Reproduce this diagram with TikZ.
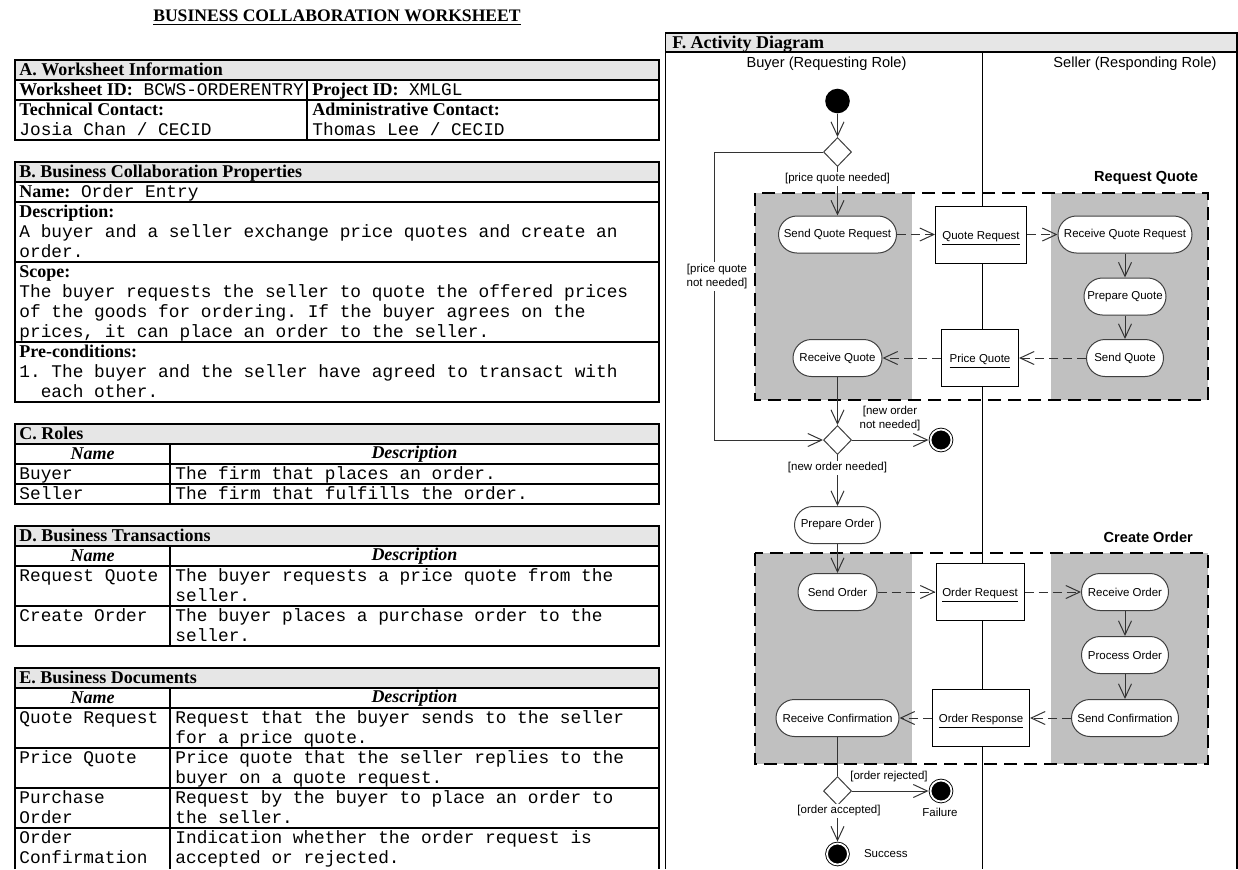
\documentclass[tikz,border=0pt]{standalone}
\usepackage{fontspec}
\setmainfont{Liberation Serif}
\setsansfont{Liberation Sans}
\setmonofont{Liberation Mono}
\usetikzlibrary{arrows.meta,shapes.geometric}
\definecolor{bandgrey}{HTML}{E6E6E6}
\definecolor{lanegrey}{HTML}{C0C0C0}
\newcommand\ttcell{\fontsize{8.9}{10}\selectfont\ttfamily}
\newcommand\hdcell{\fontsize{9}{10}\selectfont\rmfamily\bfseries}
\newcommand\actsize{\fontsize{5.75}{7}\selectfont\sffamily}
\newcommand\lanesize{\fontsize{7.3}{8}\selectfont\sffamily}
\newcommand\lbl[1]{{\hdcell #1}}
\tikzset{
BOX/.style={draw=black, line width=0.6pt},
BAND/.style={draw=black, line width=0.6pt, fill=bandgrey},
CELL/.style={anchor=north west, inner sep=0pt, align=left, font=\ttcell, yshift=-0.6pt},
HEAD/.style={anchor=north west, inner sep=0pt, align=left, font=\hdcell, yshift=-0.6pt},
COLHEAD/.style={inner sep=0pt, font=\hdcell\itshape},
ACT/.style={draw=black!75, fill=white, line width=0.5pt, rounded corners=9.25pt, minimum height=18.5pt, inner sep=0pt, font=\actsize, minimum width=#1},
OBJ/.style={draw=black, fill=white, line width=0.5pt, inner sep=0pt, minimum height=28.5pt, font=\actsize, text height=5pt, text depth=0.5pt, minimum width=#1},
DEC/.style={diamond, draw=black!75, fill=white, line width=0.5pt, inner sep=0pt, minimum width=14pt, minimum height=14.5pt},
START/.style={circle, fill=black, inner sep=0pt, minimum size=12.3pt},
FINAL/.style={circle, fill=black, draw=black, line width=0.45pt, double=white, double distance=0.9pt, inner sep=0pt, minimum size=10.5pt, outer sep=1pt},
GUARD/.style={inner sep=1pt, font=\actsize, fill=white},
FLOW/.style={draw=black!80, line width=0.5pt, -{Straight Barb[length=7pt,width=6.5pt]}},
MSG/.style={FLOW, dash pattern=on 4.5pt off 2.5pt},
GROUP/.style={draw=black, line width=1.2pt, dash pattern=on 6.5pt off 3.5pt},
}
\begin{document}
\begin{tikzpicture}[x=0.5pt,y=-0.5pt]
	\useasboundingbox (0,0) rectangle (1238,869);
	%title
	\node[font=\fontsize{8.8}{10}\selectfont\bfseries, inner sep=0pt] (title) at (337,18) {\underline{BUSINESS COLLABORATION WORKSHEET}};
	%worksheet information
	\draw[BAND] (15,60) rectangle (659,80);
	\draw[BOX] (15,60) rectangle (659,140);
	\draw[BOX] (15,100) -- (659,100) (307,80) -- (307,140);
	\node[HEAD] (infohead) at (19,60) {\strut A. Worksheet Information};
	\node[CELL] (wsid) at (19,80) {\strut\lbl{Worksheet ID:} BCWS-ORDERENTRY};
	\node[CELL] (projid) at (312,80) {\strut\lbl{Project ID:} XMLGL};
	\node[CELL] (techc) at (19,100) {\strut\lbl{Technical Contact:}\\\strut Josia Chan / CECID};
	\node[CELL] (admc) at (312,100) {\strut\lbl{Administrative Contact:}\\\strut Thomas Lee / CECID};
	%collaboration properties
	\draw[BAND] (15,162) rectangle (659,182);
	\draw[BOX] (15,162) rectangle (659,402);
	\foreach \y in {202,262,342} \draw[BOX] (15,\y) -- (659,\y);
	\node[HEAD] (prophead) at (19,162) {\strut B. Business Collaboration Properties};
	\node[CELL] (bname) at (19,182) {\strut\lbl{Name:} Order Entry};
	\node[CELL] (bdesc) at (19,202) {\strut\lbl{Description:}\\\strut A buyer and a seller exchange price quotes and create an\\\strut order.};
	\node[CELL] (bscope) at (19,262) {\strut\lbl{Scope:}\\\strut The buyer requests the seller to quote the offered prices\\\strut of the goods for ordering. If the buyer agrees on the\\\strut prices, it can place an order to the seller.};
	\node[CELL] (bpre) at (19,342) {\strut\lbl{Pre-conditions:}\\\strut 1. The buyer and the seller have agreed to transact with\\\strut\hspace*{10.7pt}each other.};
	%roles
	\draw[BAND] (15,424) rectangle (659,444);
	\draw[BOX] (15,424) rectangle (659,504);
	\draw[BOX] (15,464) -- (659,464) (15,484) -- (659,484) (170,444) -- (170,504);
	\node[HEAD] (rolehead) at (19,424) {\strut C. Roles};
	\node[CELL] (buyer) at (19,464) {\strut Buyer};
	\node[CELL] (buyerd) at (175,464) {\strut The firm that places an order.};
	\node[CELL] (seller) at (19,484) {\strut Seller};
	\node[CELL] (sellerd) at (175,484) {\strut The firm that fulfills the order.};
	%transactions
	\draw[BAND] (15,526) rectangle (659,546);
	\draw[BOX] (15,526) rectangle (659,646);
	\draw[BOX] (15,566) -- (659,566) (15,606) -- (659,606) (170,546) -- (170,646);
	\node[HEAD] (transhead) at (19,526) {\strut D. Business Transactions};
	\node[CELL] (treq) at (19,566) {\strut Request Quote};
	\node[CELL] (treqd) at (175,566) {\strut The buyer requests a price quote from the\\\strut seller.};
	\node[CELL] (tcre) at (19,606) {\strut Create Order};
	\node[CELL] (tcred) at (175,606) {\strut The buyer places a purchase order to the\\\strut seller.};
	%documents
	\draw[BAND] (15,668) rectangle (659,688);
	\draw[BOX] (15,869) -- (15,668) -- (659,668) -- (659,869);
	\foreach \y in {708,748,788,828} \draw[BOX] (15,\y) -- (659,\y);
	\draw[BOX] (170,688) -- (170,869);
	\node[HEAD] (dochead) at (19,668) {\strut E. Business Documents};
	\node[CELL] (dqr) at (19,708) {\strut Quote Request};
	\node[CELL] (dqrd) at (175,708) {\strut Request that the buyer sends to the seller\\\strut for a price quote.};
	\node[CELL] (dpq) at (19,748) {\strut Price Quote};
	\node[CELL] (dpqd) at (175,748) {\strut Price quote that the seller replies to the\\\strut buyer on a quote request.};
	\node[CELL] (dpo) at (19,788) {\strut Purchase\\\strut Order};
	\node[CELL] (dpod) at (175,788) {\strut Request by the buyer to place an order to\\\strut the seller.};
	\node[CELL] (doc) at (19,828) {\strut Order\\\strut Confirmation};
	\node[CELL] (docd) at (175,828) {\strut Indication whether the order request is\\\strut accepted or rejected.};
	\foreach \y/\t in {454/c,556/d,698/e} {
		\node[COLHEAD] (name\t) at (92.5,\y) {Name};
		\node[COLHEAD] (desc\t) at (414.5,\y) {Description};
	}
	%activity diagram frame
	\draw[BAND] (665.5,33) rectangle (1237,52);
	\draw[BOX] (665.5,869) -- (665.5,33) -- (1237,33) -- (1237,869);
	\node[HEAD] (acthead) at (672,33) {\strut F. Activity Diagram};
	\node[font=\lanesize] (buyerlane) at (826.5,64) {Buyer (Requesting Role)};
	\node[font=\lanesize] (sellerlane) at (1135,64) {Seller (Responding Role)};
	%transactions
	\foreach \t/\b in {193/400,553/764} {
		\fill[lanegrey] (755,\t) rectangle (912,\b);
		\fill[lanegrey] (1051,\t) rectangle (1208,\b);
	}
	\draw[draw=black, line width=0.5pt] (982,52) -- (982,869);
	\draw[GROUP] (755,193) rectangle (1208,400);
	\draw[GROUP] (755,553) rectangle (1208,764);
	\node[font=\lanesize\bfseries, anchor=east] (rqlabel) at (1205,178) {Request Quote};
	\node[font=\lanesize\bfseries, anchor=east] (colabel) at (1200,537) {Create Order};
	%states
	\node[START] (start) at (837.5,101) {};
	\node[DEC] (d1) at (837.5,152) {};
	\node[ACT=59pt] (sqr) at (837.5,234.5) {Send Quote Request};
	\node[OBJ=45.5pt] (qr) at (981,234.5) {\underline{Quote Request}};
	\node[ACT=67pt] (rqr) at (1125,234.5) {Receive Quote Request};
	\node[ACT=41pt] (pq) at (1125,296.5) {Prepare Quote};
	\node[ACT=38.5pt] (sq) at (1125,358) {Send Quote};
	\node[OBJ=38.5pt] (pqo) at (980,358) {\underline{Price Quote}};
	\node[ACT=44.5pt] (rq) at (837.5,358) {Receive Quote};
	\node[DEC] (d2) at (837.5,440) {};
	\node[FINAL] (stop) at (941,440) {};
	\node[ACT=43pt] (po) at (837.5,525) {Prepare Order};
	\node[ACT=39.5pt] (so) at (837.5,592) {Send Order};
	\node[OBJ=44pt] (orq) at (980,592) {\underline{Order Request}};
	\node[ACT=43.5pt] (ro) at (1125,592) {Receive Order};
	\node[ACT=43.5pt] (pro) at (1125,655) {Process Order};
	\node[ACT=53.5pt] (sc) at (1125,718) {Send Confirmation};
	\node[OBJ=48.5pt] (ors) at (981,718) {\underline{Order Response}};
	\node[ACT=61.5pt] (rc) at (837.5,718) {Receive Confirmation};
	\node[DEC] (d3) at (837.5,791) {};
	\node[FINAL] (fail) at (941,791) {};
	\node[FINAL] (done) at (837.5,854) {};
	\node[font=\actsize] (failtxt) at (940,812) {Failure};
	\node[font=\actsize, anchor=west] (donetxt) at (857,854) {Success};
	%flows
	\draw[FLOW] (start) -- (d1);
	\draw[FLOW] (d1) -- (sqr);
	\node[GUARD] (g1) at (837.5,179) {[price quote needed]};
	\coordinate (loop) at (714.5,300);
	\draw[FLOW] (d1.west) -| (loop) |- (d2.west);
	\node[GUARD, align=center] (g2) at (717,276.5) {[price quote\\not needed]};
	\draw[MSG] (sqr) -- (qr);
	\draw[MSG] (qr) -- (rqr);
	\draw[FLOW] (rqr) -- (pq);
	\draw[FLOW] (pq) -- (sq);
	\draw[MSG] (sq) -- (pqo);
	\draw[MSG] (pqo) -- (rq);
	\draw[FLOW] (rq) -- (d2);
	\draw[FLOW] (d2) -- (stop);
	\node[GUARD, fill=none, align=center] (g3) at (890,418.5) {[new order\\not needed]};
	\draw[FLOW] (d2) -- (po);
	\node[GUARD] (g4) at (837.5,468) {[new order needed]};
	\draw[FLOW] (po) -- (so);
	\draw[MSG] (so) -- (orq);
	\draw[MSG] (orq) -- (ro);
	\draw[FLOW] (ro) -- (pro);
	\draw[FLOW] (pro) -- (sc);
	\draw[MSG] (sc) -- (ors);
	\draw[MSG] (ors) -- (rc);
	\draw[draw=black!80, line width=0.5pt] (rc) -- (d3);
	\draw[FLOW] (d3) -- (fail);
	\node[GUARD, fill=none] (g5) at (889,777) {[order rejected]};
	\draw[FLOW] (d3) -- (done);
	\node[GUARD] (g6) at (839,811) {[order accepted]};
\end{tikzpicture}
\end{document}
